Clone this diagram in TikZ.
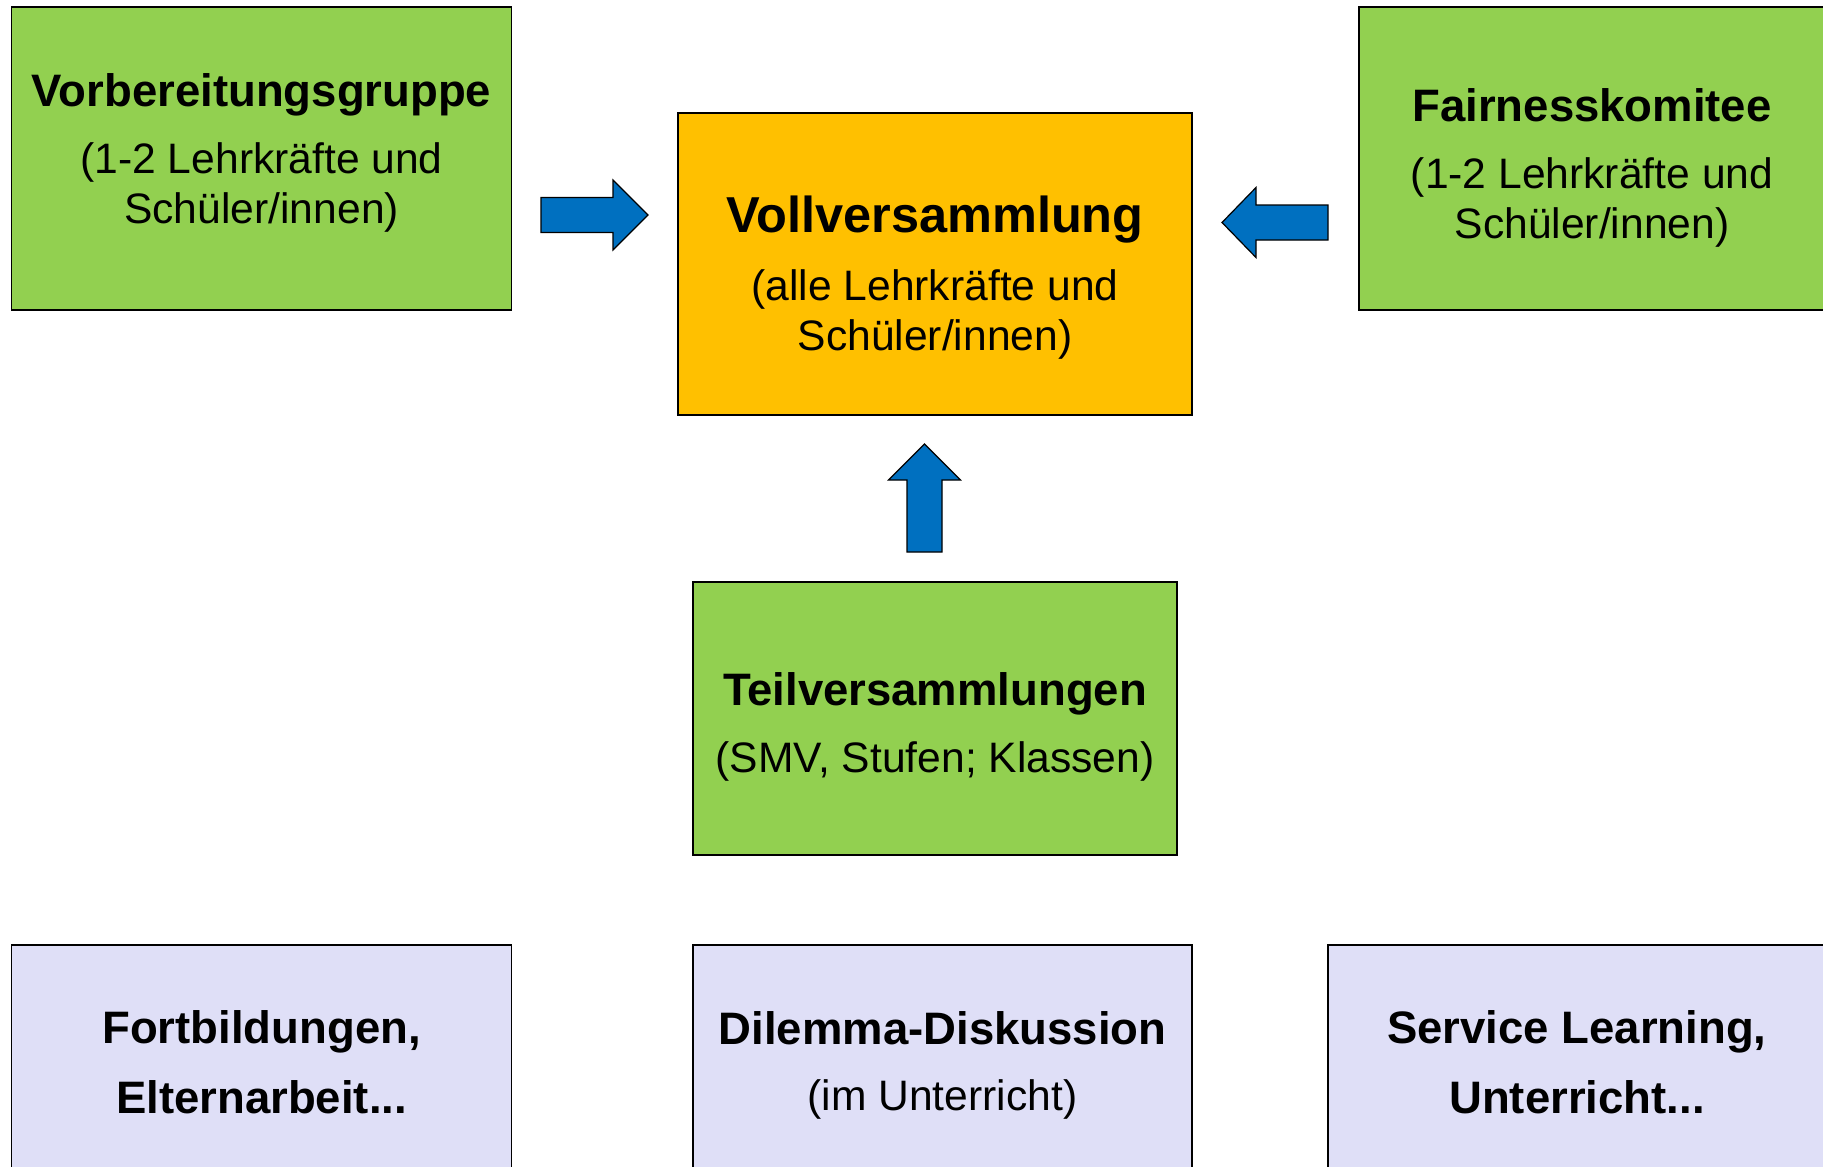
\documentclass[tikz,border=0pt]{standalone}
\usepackage{fontspec}
\setmainfont{Liberation Sans}
\usetikzlibrary{positioning}

\definecolor{gruen}{HTML}{92D050}
\definecolor{gelborange}{HTML}{FFC000}
\definecolor{pfeilblau}{HTML}{0070C0}
\definecolor{lila}{RGB}{223,223,247}

\newcommand{\titel}{\bfseries\fontsize{45.5}{54}\selectfont}
\newcommand{\grosstitel}{\bfseries\fontsize{50.5}{60}\selectfont}
\newcommand{\untertitel}{\fontsize{42.6}{50}\selectfont}
\newcommand{\fettzeilen}{\bfseries\fontsize{45.5}{70}\selectfont}

\begin{document}
\begin{tikzpicture}[x=1pt, y=-1pt,
  kasten/.style={draw=black, line width=1.5pt, inner sep=0pt, outer sep=0pt},
  gruenkasten/.style={kasten, fill=gruen},
  gelbkasten/.style={kasten, fill=gelborange},
  lilakasten/.style={kasten, fill=lila},
  boxtext/.style={align=center, inner sep=0pt, font=\untertitel},
  blockpfeil/.style={draw=black, fill=pfeilblau, line width=1.2pt, line join=miter}]

  \useasboundingbox (0,0) rectangle (1823,1167);
  \clip (0,0) rectangle (1823,1167);

  % obere Reihe
  \node[gruenkasten, minimum width=500pt, minimum height=303pt] (vorb) at (261.6,158.4) {};
  \node[gelbkasten, minimum width=514pt, minimum height=302pt] (voll) at (935,264) {};
  \node[gruenkasten, minimum width=466pt, minimum height=303pt] (fair) at (1592,158.5) {};

  \node[boxtext, below=66.8pt of vorb.north] (vorb-txt)
    {{\titel Vorbereitungsgruppe}\\[17pt] (1-2 Lehrkräfte und\\ Schüler/innen)};
  \node[boxtext, below=83.2pt of voll.north] (voll-txt)
    {{\grosstitel Vollversammlung}\\[18pt] (alle Lehrkräfte und\\ Schüler/innen)};
  \node[boxtext, below=81.8pt of fair.north] (fair-txt)
    {{\titel Fairnesskomitee}\\[17pt] (1-2 Lehrkräfte und\\ Schüler/innen)};

  % Mitte
  \node[gruenkasten, minimum width=484pt, minimum height=273pt] (teil) at (935,718.5) {};
  \node[boxtext, below=90.8pt of teil.north] (teil-txt)
    {{\titel Teilversammlungen}\\[17pt] (SMV, Stufen; Klassen)};

  % untere Reihe
  \node[lilakasten, minimum width=500pt, minimum height=303pt] (fort) at (261.6,1096.5) {};
  \node[lilakasten, minimum width=499pt, minimum height=303pt] (dilem) at (942.5,1096.5) {};
  \node[lilakasten, minimum width=498pt, minimum height=303pt] (serv) at (1577,1096.5) {};

  \node[boxtext, font=\fettzeilen, below=65.8pt of fort.north] (fort-txt)
    {Fortbildungen,\\ Elternarbeit...};
  \node[boxtext, below=66.8pt of dilem.north] (dilem-txt)
    {{\titel Dilemma-Diskussion}\\[16pt] (im Unterricht)};
  \node[boxtext, font=\fettzeilen, below=65.2pt of serv.north] (serv-txt)
    {Service Learning,\\ Unterricht...};

  % Pfeile
  \draw[blockpfeil] (541,197.5) -- (613,197.5) -- (613,180) -- (648,215)
    -- (613,250) -- (613,232.5) -- (541,232.5) -- cycle;
  \draw[blockpfeil] (1328,205) -- (1256,205) -- (1256,187.5) -- (1222,222.5)
    -- (1256,257.5) -- (1256,240) -- (1328,240) -- cycle;
  \draw[blockpfeil] (907,552) -- (907,480) -- (888.5,480) -- (924.5,444)
    -- (960.5,480) -- (942,480) -- (942,552) -- cycle;

\end{tikzpicture}
\end{document}
